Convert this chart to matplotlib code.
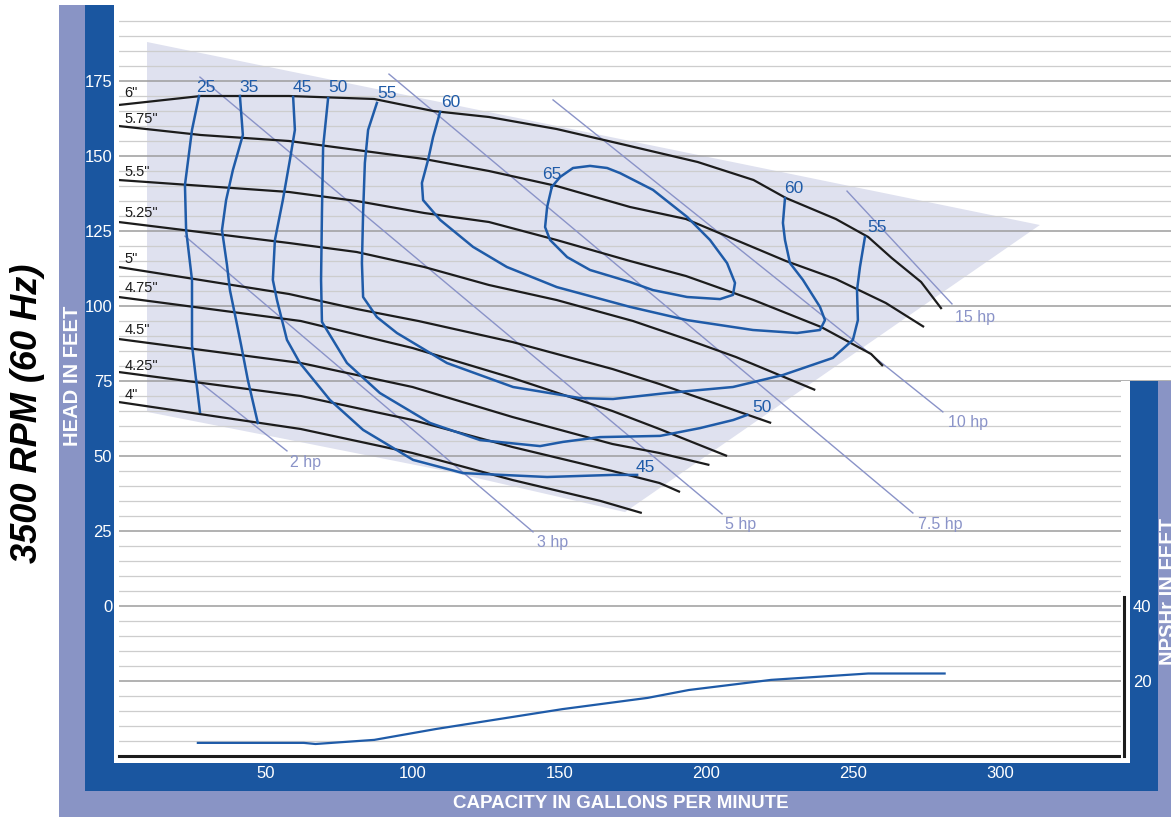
import matplotlib
matplotlib.use('Agg')
import matplotlib.pyplot as plt
from matplotlib.patches import Rectangle

plt.rcParams['font.family'] = ['Liberation Sans', 'DejaVu Sans']

# impeller head curves (capacity gpm, head ft)
q_600 = [0, 28, 58, 87, 107, 126, 149, 171, 197, 216, 227, 244, 255, 263, 273, 280]
h_600 = [167, 170, 170, 169, 165, 163, 159, 154, 148, 142, 136, 129, 123, 116, 108, 99]
q_575 = [0, 28, 58, 81, 104, 126, 149, 174, 193, 210, 227, 244, 261, 274]
h_575 = [160, 157, 155, 152, 149, 145, 140, 133, 129, 122, 115, 109, 101, 93]
q_550 = [0, 58, 81, 104, 126, 149, 174, 193, 216, 239, 256, 260]
h_550 = [142, 138, 135, 131, 128, 122, 115, 110, 102, 93, 84, 80]
q_525 = [0, 58, 81, 104, 126, 149, 175, 193, 210, 237]
h_525 = [128, 121, 118, 113, 107, 102, 95, 89, 83, 72]
q_500 = [0, 58, 81, 102, 134, 168, 184, 222]
h_500 = [113, 104, 99, 95, 88, 79, 74, 61]
q_475 = [0, 62, 100, 134, 168, 184, 207]
h_475 = [103, 95, 86, 76, 65, 59, 50]
q_450 = [0, 62, 100, 134, 168, 184, 201]
h_450 = [89, 81, 73, 63, 54, 51, 47]
q_425 = [0, 62, 100, 134, 168, 184, 191]
h_425 = [78, 70, 62, 53, 45, 41, 38]
q_400 = [0, 62, 100, 134, 164, 178]
h_400 = [68, 59, 51, 42, 35, 31]

dia_names = ['6"', '5.75"', '5.5"', '5.25"', '5"', '4.75"', '4.5"', '4.25"', '4"']
dia_label_h = [171, 162.4, 144.8, 131, 115.7, 106, 92, 80, 70.3]

# efficiency contours (%)
e25_q = [27.4, 25.0, 22.6, 23.0, 25.0, 25.0, 26.4, 27.7]
e25_h = [170, 158.7, 140.3, 125.3, 108.7, 87, 75.3, 64.7]
e35_q = [41.3, 42.3, 38.9, 36.6, 35.2, 36.9, 37.9, 40.0, 41.7, 44.0, 47.4]
e35_h = [170, 157, 145.3, 135.3, 125.3, 113.7, 105.3, 95.3, 87, 75.3, 61]
e45_q = [59.4, 60.0, 58.3, 55.9, 53.2, 52.5, 53.9, 57.3, 61.7, 71.9, 83.2, 100.2, 117.2, 145.8, 168.2, 176.4]
e45_h = [169.7, 158.7, 148.7, 135.3, 122, 108.7, 102, 88.7, 81, 68.7, 58.7, 48.7, 44.3, 43, 43.7, 43.7]
e50_q = [71.3, 69.6, 69.2, 68.9, 69.2, 77.7, 88.9, 106, 123, 143.4, 151.2, 163.8, 184.2, 197.8, 209.1, 213.9]
e50_h = [169.3, 153, 131, 108.7, 94.7, 81, 71, 61, 55.3, 53.3, 54.7, 56.3, 56.7, 59.3, 62, 63.7]
e55_q = [87.9, 84.9, 83.8, 83.2, 82.8, 83.2, 87.9, 94.7, 111.7, 134.2, 157, 168.2, 186.6, 209, 226, 243,
         249.8, 251.5, 251.2, 252.2, 253.9]
e55_h = [167.7, 158.7, 147.7, 131, 114.3, 103, 96.3, 91, 81, 73, 69.3, 69, 71, 73, 77, 82.7,
         88.7, 95.3, 105.3, 113, 123]
e60_q = [109.4, 107, 105.3, 103.2, 103.6, 109.4, 120.6, 132.1, 149.1, 174, 193.4, 215.8, 230.8, 238.6,
         240.3, 238.6, 232.8, 228.4, 226.7, 226, 226.7]
e60_h = [164.7, 156.3, 148.7, 141, 135.3, 128.7, 119.7, 113, 106.3, 99.7, 95.3, 92, 91, 92,
         95.3, 99.7, 108.7, 114.3, 122, 127.7, 136]
e65_q = [147.4, 145.8, 145.1, 146.8, 152.6, 160.4, 174, 181.8, 193.4, 204.6, 209, 209.7, 207, 201.2,
         193.4, 181.8, 170.6, 166.2, 160.4, 154.6, 150.2, 147.4]
e65_h = [139.7, 133, 126.3, 122, 116.3, 112, 108, 105.3, 103, 102.3, 103.7, 107.7, 114.3, 122,
         129.7, 138.7, 144.3, 146, 146.7, 146, 143, 139.7]

eff_text = ['25', '35', '45', '50', '55', '60', '65', '60', '55', '50', '45']
eff_q = [29.7, 44.4, 62.4, 74.6, 91.3, 113.1, 147.4, 229.8, 258, 218.9, 179.1]
eff_h = [172.7, 172.7, 172.7, 172.7, 170.7, 167.7, 143.7, 139, 126, 66.3, 46.3]

# horsepower lines
hp_names = ['2 hp', '3 hp', '5 hp', '7.5 hp', '10 hp', '15 hp']
hp_q0 = [26.7, 22.6, 27.7, 92.0, 147.8, 247.8]
hp_h0 = [75.3, 123.3, 176.3, 177.3, 168.7, 138.3]
hp_q1 = [57.3, 141, 205.3, 270.2, 280.4, 283.5]
hp_h1 = [51.7, 24.7, 30.7, 31, 64.7, 100.7]
hp_label_q = [58.4, 142.3, 206.3, 271.9, 282.1, 284.5]
hp_label_h = [47.7, 21, 27.3, 27.3, 61.3, 96.3]

# NPSHr curve
npsh_q = [27, 63, 67, 87, 108, 125, 151, 180, 194, 222, 255, 281]
npsh_v = [3.5, 3.5, 3.2, 4.3, 7.2, 9.3, 12.5, 15.5, 17.6, 20.3, 22.0, 22.0]

# recommended operating region
shade_q = [9.7, 313.4, 172.3, 112.8, 54.9, 9.7]
shade_h = [188, 127, 31.3, 44.7, 56, 64.7]

DARK = '#1a56a0'
LIGHT = '#8994c5'
EFF = '#1f5ba8'
HPC = '#8a93c8'
INK = '#1c1c1c'

W, H = 1171, 817
fig = plt.figure(figsize=(W / 100, H / 100), dpi=100)


def band(x0, y0, x1, y1, color, z):
    fig.add_artist(Rectangle((x0 / W, 1 - y1 / H), (x1 - x0) / W, (y1 - y0) / H,
                             transform=fig.transFigure, facecolor=color,
                             edgecolor='none', zorder=z))


band(59, 5, 85, 817, LIGHT, -1)
band(85, 5, 114, 791, DARK, -1)
band(59, 791, 1171, 817, LIGHT, -1)
band(85, 763, 1158, 791, DARK, -1)
band(1121, 381, 1130, 763, 'white', 2)
band(1130, 381, 1158, 791, DARK, 2)
band(1158, 381, 1171, 817, LIGHT, 2)

ax = fig.add_axes([118.5 / W, 61 / H, (W - 118.5) / W, 750 / H])
ax.set_xlim(0, 358)
ax.set_ylim(-50, 200)

ax.fill(shade_q, shade_h, color='#dfe1ef', lw=0, zorder=0.2)

for q, h in [(q_600, h_600), (q_575, h_575), (q_550, h_550), (q_525, h_525), (q_500, h_500),
             (q_475, h_475), (q_450, h_450), (q_425, h_425), (q_400, h_400)]:
    ax.plot(q, h, color=INK, lw=1.6, solid_capstyle='butt', zorder=3)
for name, h in zip(dia_names, dia_label_h):
    ax.text(2, h, name, color=INK, fontsize=10.5, ha='left', va='center')

for a, b, c, d in zip(hp_q0, hp_h0, hp_q1, hp_h1):
    ax.plot([a, c], [b, d], color=HPC, lw=1.0, zorder=2)
for name, q, h in zip(hp_names, hp_label_q, hp_label_h):
    ax.text(q, h, name, color=HPC, fontsize=11.5, ha='left', va='center')

for q, h in [(e25_q, e25_h), (e35_q, e35_h), (e45_q, e45_h), (e50_q, e50_h),
             (e55_q, e55_h), (e60_q, e60_h), (e65_q, e65_h)]:
    ax.plot(q, h, color=EFF, lw=1.8, zorder=4)
for t, q, h in zip(eff_text, eff_q, eff_h):
    ax.text(q, h, t, color=EFF, fontsize=12.5, ha='center', va='center')

ax.set_xticks([50, 100, 150, 200, 250, 300])
ax.set_yticks(range(-25, 200, 25))
ax.set_yticklabels([''] + [str(v) for v in range(0, 200, 25)])
ax.set_yticks(range(-45, 200, 5), minor=True)
ax.tick_params(axis='both', which='both', length=0, labelcolor='white', labelsize=12)
ax.tick_params(axis='x', pad=7)
ax.tick_params(axis='y', pad=4.5)
ax.grid(axis='y', which='major', color='#9d9d9d', lw=1.1)
ax.grid(axis='y', which='minor', color='#cdcdcd', lw=0.9)
ax.set_axisbelow(True)
for s in ['top', 'left', 'right']:
    ax.spines[s].set_visible(False)
ax.spines['bottom'].set_bounds(0, 342)
ax.spines['bottom'].set_linewidth(2.2)
ax.spines['bottom'].set_color(INK)

ax2 = ax.twinx()
ax2.set_zorder(3)
ax2.set_ylim(0, 200)
ax2.plot(npsh_q, npsh_v, color=EFF, lw=1.6)
for s in ['top', 'left', 'bottom']:
    ax2.spines[s].set_visible(False)
ax2.spines['right'].set_position(('data', 342))
ax2.spines['right'].set_bounds(0, 42.4)
ax2.spines['right'].set_linewidth(2.2)
ax2.spines['right'].set_color(INK)
ax2.set_yticks([20, 40])
ax2.tick_params(axis='y', length=0, pad=6.5, labelcolor='white', labelsize=12)

fig.text(28 / W, 1 - 413 / H, '3500 RPM (60 Hz)', rotation=90, fontsize=26,
         fontweight='bold', fontstyle='italic', color='black', ha='center', va='center')
fig.text(72 / W, 1 - 376 / H, 'HEAD IN FEET', rotation=90, fontsize=14.5,
         fontweight='bold', color='white', ha='center', va='center')
fig.text(621 / W, 1 - 804 / H, 'CAPACITY IN GALLONS PER MINUTE', fontsize=13.5,
         fontweight='bold', color='white', ha='center', va='center')
fig.text(1168 / W, 1 - 591 / H, 'NPSHr IN FEET', rotation=90, fontsize=14.5,
         fontweight='bold', color='white', ha='center', va='center', zorder=4)

fig.savefig('out.png', dpi=100)
